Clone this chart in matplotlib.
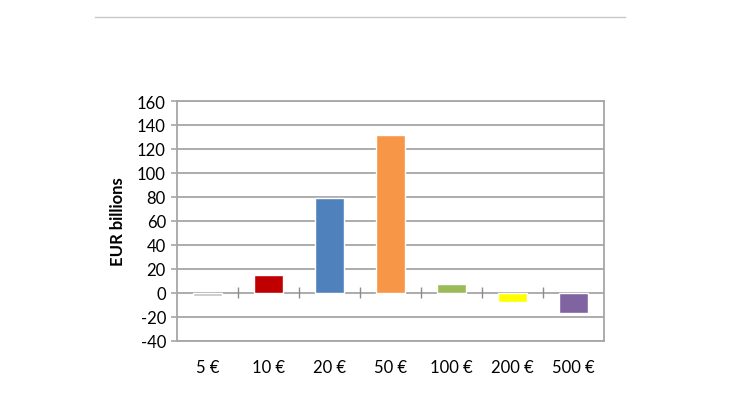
import matplotlib
matplotlib.use("Agg")
import matplotlib.pyplot as plt
from matplotlib.lines import Line2D

# banknote denominations and net issuance (EUR billions)
denominations = ["5 €", "10 €", "20 €", "50 €", "100 €", "200 €", "500 €"]
values = [-2.5, 14.5, 79, 132, 7, -8, -17]
bar_colors = ["#C4C4C4", "#C00000", "#4F81BD", "#F79646", "#9BBB59", "#FFFF00", "#8064A2"]
y_ticks = list(range(-40, 161, 20))

plt.rcParams["font.family"] = ["Lato", "DejaVu Sans"]
plt.rcParams["axes.unicode_minus"] = False  # plain hyphen like the original

fig = plt.figure(figsize=(7.3, 4.1), dpi=100)
ax = fig.add_axes([0.2425, 0.1666, 0.585, 0.5846])

grid_col = "#A6A6A6"
x = range(len(denominations))
ax.bar(x, values, width=0.48, color=bar_colors, edgecolor="white",
       linewidth=1.0, zorder=3)

ax.set_ylim(-40, 160)
ax.set_xlim(-0.5, len(denominations) - 0.5)
ax.set_yticks(y_ticks)
ax.yaxis.grid(True, color=grid_col, linewidth=1.3, zorder=0)
ax.set_axisbelow(True)

# category separators on the zero line
ax.vlines([i + 0.5 for i in range(len(denominations) - 1)], -4.5, 4.5,
          color="#8C8C8C", linewidth=1.0, zorder=2)

ax.set_xticks(list(x))
ax.set_xticklabels(denominations, fontsize=12)
ax.tick_params(axis="x", length=0, pad=13)
ax.tick_params(axis="y", labelsize=12, length=4, color=grid_col, width=1.2, pad=4)

for s in ax.spines.values():
    s.set_color(grid_col)
    s.set_linewidth(1.3)

ax.set_ylabel("EUR billions", fontsize=12, fontweight="bold", labelpad=8)

# thin rule at the top of the page
fig.add_artist(Line2D([95 / 730, 625 / 730], [1 - 18 / 410, 1 - 18 / 410],
                      color="#C8C8C8", linewidth=1.0))

fig.savefig("out.png", dpi=100)
